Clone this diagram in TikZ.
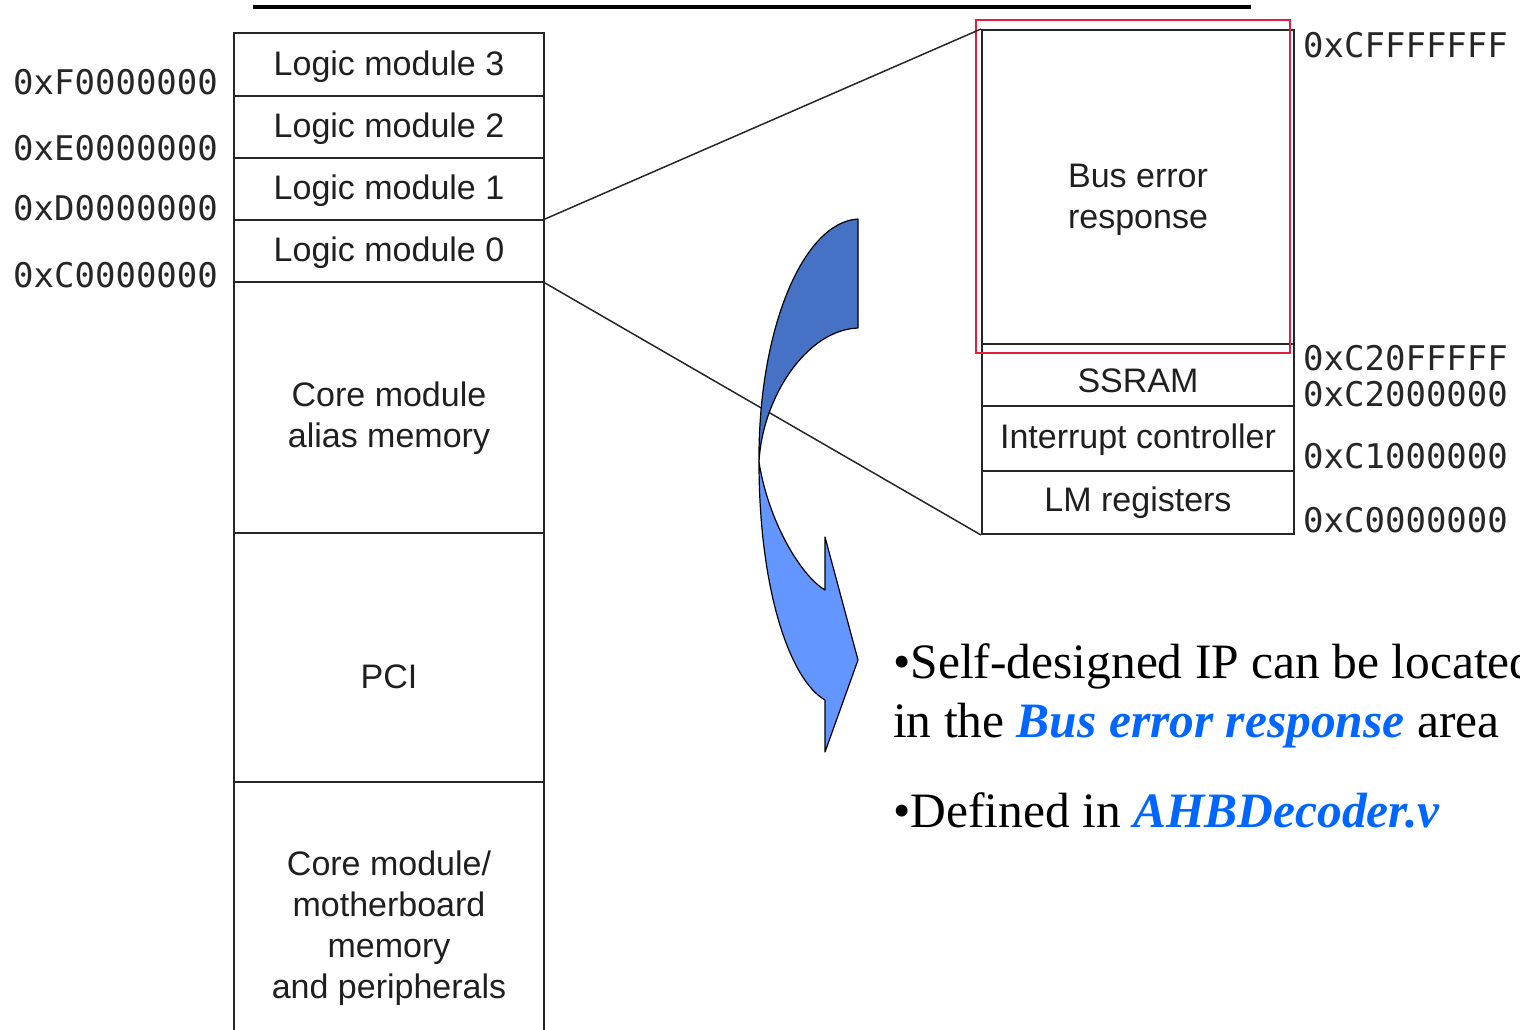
\documentclass[tikz,border=0pt]{standalone}
\usepackage{fontspec}
\setmainfont{Liberation Serif}
\newfontfamily\boxfont{Liberation Sans}
\newfontfamily\addrfont{DejaVu Sans Mono}
\definecolor{hiblue}{RGB}{0,102,255}
\definecolor{arrowdark}{RGB}{70,114,198}
\definecolor{arrowlight}{RGB}{100,150,255}
\definecolor{hlred}{RGB}{228,30,60}
\begin{document}
\begin{tikzpicture}[x=1pt,y=-1pt,
  region/.style={draw=black!85, line width=2pt, inner sep=0pt, anchor=north west},
  leftregion/.style={region, minimum width=310pt},
  rightregion/.style={region, minimum width=312pt},
  boxtext/.style={inner sep=0pt, align=center, text=black!88,
    font=\boxfont\fontsize{34}{41}\selectfont},
  addr/.style={font=\addrfont\fontsize{34}{40}\selectfont, anchor=west, inner sep=0pt, text=black!85},
  zoomline/.style={line width=1.5pt, draw=black!85},
  bullet/.style={font=\fontsize{49.5}{59}\selectfont, anchor=base west, inner sep=0pt},
  arrowpart/.style={draw=black, line width=1.2pt, line join=round}]
\useasboundingbox (0,0) rectangle (1520,1029);

% rule above the map
\draw[line width=4pt] (253,7) -- (1251,7);

% full address map
\node[leftregion, minimum height=63pt]  (lm3)   at (233,32)  {};
\node[leftregion, minimum height=62pt]  (lm2)   at (233,95)  {};
\node[leftregion, minimum height=62pt]  (lm1)   at (233,157) {};
\node[leftregion, minimum height=62pt]  (lm0)   at (233,219) {};
\node[leftregion, minimum height=251pt] (alias) at (233,281) {};
\node[leftregion, minimum height=249pt] (pci)   at (233,532) {};
\node[leftregion, minimum height=290pt] (cmm)   at (233,781) {};

\node[boxtext] (lm3t)   at ([yshift=-2pt]lm3.center)    {Logic module 3};
\node[boxtext] (lm2t)   at ([yshift=-2pt]lm2.center)    {Logic module 2};
\node[boxtext] (lm1t)   at ([yshift=-2pt]lm1.center)    {Logic module 1};
\node[boxtext] (lm0t)   at ([yshift=-2pt]lm0.center)    {Logic module 0};
\node[boxtext] (aliast) at ([yshift=-11pt]alias.center) {Core module\\alias memory};
\node[boxtext] (pcit)   at ([yshift=-19pt]pci.center)   {PCI};
\node[boxtext] (cmmt)   at ([yshift=-1pt]cmm.center)    {Core module/\\motherboard\\memory\\and peripherals};

\node[addr] (aF) at (13,82)  {0xF0000000};
\node[addr] (aE) at (13,148) {0xE0000000};
\node[addr] (aD) at (13,208) {0xD0000000};
\node[addr] (aC) at (13,275) {0xC0000000};

% logic module 0 in detail
\node[rightregion, minimum height=314pt] (ber)   at (981,29)  {};
\node[rightregion, minimum height=62pt]  (ssram) at (981,343) {};
\node[rightregion, minimum height=65pt]  (intc)  at (981,405) {};
\node[rightregion, minimum height=63pt]  (lmreg) at (981,470) {};

\node[boxtext] (bert)   at ([yshift=-13pt]ber.center)  {Bus error\\response};
\node[boxtext] (ssramt) at ([yshift=-6pt]ssram.center) {SSRAM};
\node[boxtext] (intct)  at ([yshift=-1pt]intc.center)  {Interrupt controller};
\node[boxtext] (lmregt) at (lmreg.center)              {LM registers};

\node[addr] (rCF)  at (1303,45)  {0xCFFFFFFF};
\node[addr] (rC2F) at (1303,358) {0xC20FFFFF};
\node[addr] (rC2)  at (1303,394) {0xC2000000};
\node[addr] (rC1)  at (1303,456) {0xC1000000};
\node[addr] (rC0)  at (1303,520) {0xC0000000};

% highlight of the free area
\node[draw=hlred, line width=1.5pt, inner sep=0pt, anchor=north west,
  minimum width=314pt, minimum height=333pt] (mark) at (975,19) {};

% expansion lines
\draw[zoomline] (lm0.north east) -- (ber.north west);
\draw[zoomline] (lm0.south east) -- (lmreg.south west);

% curved arrow
\coordinate (m) at (759,462);
\filldraw[arrowpart, fill=arrowdark]
  (858,219) .. controls (803,222) and (758,330) .. (m)
  .. controls (762,400) and (805,330) .. (858,328) -- cycle;
\filldraw[arrowpart, fill=arrowlight]
  (m) .. controls (759,590) and (790,680) .. (825,700)
  -- (825,752) -- (858,660) -- (825,537) -- (825,590)
  .. controls (800,575) and (768,520) .. (m) -- cycle;

% notes
\node[bullet] (n1) at (893,678) {•Self-designed IP can be located};
\node[bullet] (n2) at (893,737) {in the {\color{hiblue}\bfseries\itshape Bus error response} area};
\node[bullet] (n3) at (893,827) {•Defined in {\color{hiblue}\bfseries\itshape AHBDecoder.v}};
\end{tikzpicture}
\end{document}
